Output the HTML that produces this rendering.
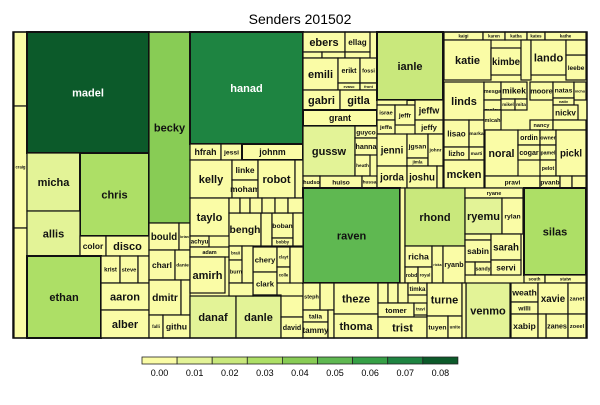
<!DOCTYPE html>
<html><head><meta charset="utf-8"><style>
body{margin:0;background:#fff;width:600px;height:400px;overflow:hidden;font-family:"Liberation Sans",sans-serif}
svg text{font-family:"Liberation Sans",sans-serif}
</style></head><body>
<svg id="chart" width="600" height="400">
<text x="300" y="24" text-anchor="middle" font-size="14">Senders 201502</text>
<rect x="13" y="32" width="574" height="306" fill="#fafca6" stroke="#111" stroke-width="1"/>
<g id="cells"></g><g id="legend"></g>
</svg>
<script>
const palette=["#fafca6","#e3f397","#c9e87c","#addf66","#88cc55","#5fb851","#36a046","#1e8441","#0c5a2a"];
const legendLabels=["0.00","0.01","0.02","0.03","0.04","0.05","0.06","0.07","0.08"];
const names=[
"uutiliq","craig","","madel","micha","chris","allis","color","disco","ethan","krist","steve","","aaron","alber",
"becky","bould","brian","charl","danie","dmitr","","falli","githu",
"hanad","hfrah","jessi","johnm","kelly","linke","moham","robot","","taylo","achyu","adam","bengh","","boban","bobby","amirh","braii","burns","chery","clark","clayt","colle","danaf","danle","","david","",
"ebers","ellag","digit","egane","elsay","emili","erikt","evaso","fossi","front","gabri","gitla","grant","ianle","jessp","israe","jeffr","jeffw","jeffa","jeffy","gussw","guyco","hanna","heath","jenni","jgsan","jimla","johnr","hudso","huiso","hussa","jorda","joshu","",
"kaigi","karen","katba","kates","kathe","katie","kimbe","","lando","leebe","","linds","lisao","marka","lizho","marti","mcken",
"mesga","mikek","melov","mikel","mita","micah","moore","natas","nicho","nativ","nickv","nancy","","noral","ordin","owner","cogar","pamel","pelot","pickl","pravi","pvanb","","",
"raven","","rhond","ryane","ryemu","rylan","sma","sabin","sarah","sandy","servi","","silas","south","statw","richa","ricka","ryanb","robd","royal",
"steph","talia","tammy","","","theze","thoma","","","","tomer","timka","travi","trist","turne","tuyen","unite","venmo","weath","willi","xabip","xavie","zanet","zanes","zoeel","",
"","","","","","","","","","",""];
const levels=[
0,0,0,8,1,3,1,0,0,3,0,0,0,0,0,
4,0,0,0,0,0,0,0,0,
7,0,0,0,0,0,0,0,0,0,0,0,0,0,0,0,0,0,0,0,0,0,0,1,1,0,0,0,
0,0,0,0,0,0,0,0,0,0,0,0,0,2,0,0,0,0,0,0,1,0,0,0,0,0,0,0,0,0,0,0,0,0,
0,0,0,0,0,0,0,0,0,0,0,0,0,0,0,0,0,
0,0,0,0,0,0,0,0,0,0,0,0,0,0,0,0,0,0,0,0,0,0,0,0,
5,0,2,0,1,0,0,0,0,0,0,0,3,0,0,0,0,0,0,0,
0,0,0,0,0,0,0,0,0,0,0,0,0,0,0,0,0,1,0,0,0,0,0,0,0,0,
0,0,0,0,0,0,0,0,0,0,0];
const cells=[
[14,32,27,106],[14,106,27,228],[14,228,27,338],[27,32,149,153],[27,153,80,211],[80,153,149,236],[27,211,80,256],[80,236,106,256],[106,236,149,256],[27,256,101,338],[101,256,120,283],[120,256,138,283],[138,256,149,283],[101,283,149,310],[101,310,149,338],
[149,32,190,223],[149,223,179,250],[179,223,190,250],[149,250,175,280],[175,250,190,280],[149,280,181,315],[181,280,190,315],[149,315,163,338],[163,315,190,338],
[190,32,303,144],[190,144,221,160],[221,144,242,160],[242,144,303,160],[190,160,232,198],[232,160,258,180],[232,180,258,198],[258,160,295,198],[295,160,303,198],[190,198,229,236],[190,236,209,247],[190,247,229,257],[229,213,261,246],[261,213,272,246],[272,213,293,238],[272,238,293,246],[190,257,225,293],[229,246,242,260],[229,260,246,283],[253,247,277,272],[253,272,277,295],[277,247,290,267],[277,267,290,283],[190,296,236,338],[236,296,281,338],[281,296,303,317],[281,317,303,338],[229,198,240,213],
[303,32,345,52],[345,32,370,52],[303,52,322,58],[322,52,345,58],[345,52,370,58],[303,58,338,90],[338,58,360,83],[338,83,360,90],[360,58,377,83],[360,83,377,90],[303,90,340,110],[340,90,377,110],[303,110,377,126],[377,32,443,100],[377,100,407,105],[377,105,395,120],[395,105,415,125],[415,100,443,120],[377,120,395,134],[415,120,443,134],
[303,126,355,176],[355,126,377,138],[355,138,377,155],[355,155,370,176],[377,134,407,166],[407,134,428,158],[407,158,428,166],[428,134,443,166],[303,176,320,188],[320,176,362,188],[362,176,377,188],[377,166,407,188],[407,166,437,188],[437,166,443,188],
[444,32,483,40],[483,32,505,40],[505,32,527,40],[527,32,545,40],[545,32,586,40],[444,40,491,80],[491,48,521,75],[521,40,531,80],[531,40,566,75],[566,55,586,80],[566,40,586,55],[444,82,484,120],[444,120,469,147],[469,120,484,147],[444,147,469,160],[469,147,484,160],[444,160,484,188],
[484,82,501,100],[501,82,527,99],[484,100,501,120],[501,99,515,110],[515,99,527,110],[484,110,501,130],[530,82,553,100],[553,82,574,98],[574,82,586,100],[553,98,574,105],[553,105,578,120],[530,120,553,130],[553,120,586,130],[485,130,518,176],[518,130,540,145],[540,130,556,145],[518,145,540,160],[540,145,556,160],[540,160,556,176],[556,130,586,176],[485,176,540,188],[540,176,560,188],[560,176,572,188],[572,176,586,188],
[303,188,400,283],[400,188,405,283],[405,188,465,246],[465,188,523,198],[465,198,502,234],[502,198,523,234],[465,234,491,240],[465,240,491,262],[491,234,521,260],[475,262,491,275],[491,260,521,275],[465,262,475,275],[524,188,586,275],[524,275,545,283],[545,275,586,283],[405,246,432,267],[432,246,443,283],[443,246,465,283],[405,267,418,283],[418,267,432,283],
[303,283,320,310],[303,310,328,322],[303,322,328,338],[320,283,334,310],[328,310,334,338],[334,283,378,314],[334,314,378,338],[378,283,388,303],[388,283,398,303],[398,283,408,303],[378,303,414,317],[408,283,427,295],[414,303,427,315],[378,317,427,338],[427,283,462,316],[427,316,448,338],[448,316,462,338],[466,283,510,338],[511,283,538,302],[511,302,538,314],[511,314,538,338],[538,283,568,314],[568,283,586,314],[546,314,568,338],[568,314,586,338],[538,314,546,338],
[462,283,466,338],[240,198,250,213],[250,198,262,213],[262,198,275,213],[275,198,288,213],[288,198,303,213],[293,213,303,246],[242,246,253,283],[290,247,303,283],[229,283,253,296],[253,295,281,296]];
const NS="http://www.w3.org/2000/svg";
const g=document.getElementById('cells');
for(let i=0;i<cells.length;i++){
  const [x0,y0,x1,y1]=cells[i];const w=x1-x0,h=y1-y0;if(w<=0||h<=0)continue;
  const lv=levels[i]||0;const nm=names[i]||"";
  const r=document.createElementNS(NS,'rect');
  r.setAttribute('x',x0);r.setAttribute('y',y0);r.setAttribute('width',w);r.setAttribute('height',h);
  r.setAttribute('fill',palette[lv]);r.setAttribute('stroke','#111');r.setAttribute('stroke-width',w>60?2:1.2);
  
  
  g.appendChild(r);
  if(nm){
    let fs=Math.min(11,h*0.55,w/(nm.length*0.62));
    if(fs<3.5)continue;
    const t=document.createElementNS(NS,'text');
    t.setAttribute('x',x0+w/2);t.setAttribute('y',y0+h/2+fs*0.36);
    t.setAttribute('text-anchor','middle');t.setAttribute('font-size',fs.toFixed(1));t.setAttribute('font-weight','bold');
    t.setAttribute('fill',lv>=6?'#fff':'#111');t.textContent=nm;
    
    
    g.appendChild(t);
  }
}
const ob=document.createElementNS(NS,'rect');
ob.setAttribute('x',13);ob.setAttribute('y',32);ob.setAttribute('width',574);ob.setAttribute('height',306);ob.setAttribute('fill','none');ob.setAttribute('stroke','#111');ob.setAttribute('stroke-width',1.5);


g.appendChild(ob);
const lg=document.getElementById('legend');
const lx=142,segW=35.1;
for(let i=0;i<palette.length;i++){
  const r=document.createElementNS(NS,'rect');
  r.setAttribute('x',lx+i*segW);r.setAttribute('y',357);r.setAttribute('width',segW);r.setAttribute('height',7);
  r.setAttribute('fill',palette[i]);r.setAttribute('stroke','#222');r.setAttribute('stroke-width',0.8);
  
  
  lg.appendChild(r);
  const t=document.createElementNS(NS,'text');
  t.setAttribute('x',lx+i*segW+segW/2);t.setAttribute('y',376);t.setAttribute('text-anchor','middle');t.setAttribute('font-size',9);
  t.textContent=legendLabels[i];
  
  
  lg.appendChild(t);
}
</script>
</body></html>
